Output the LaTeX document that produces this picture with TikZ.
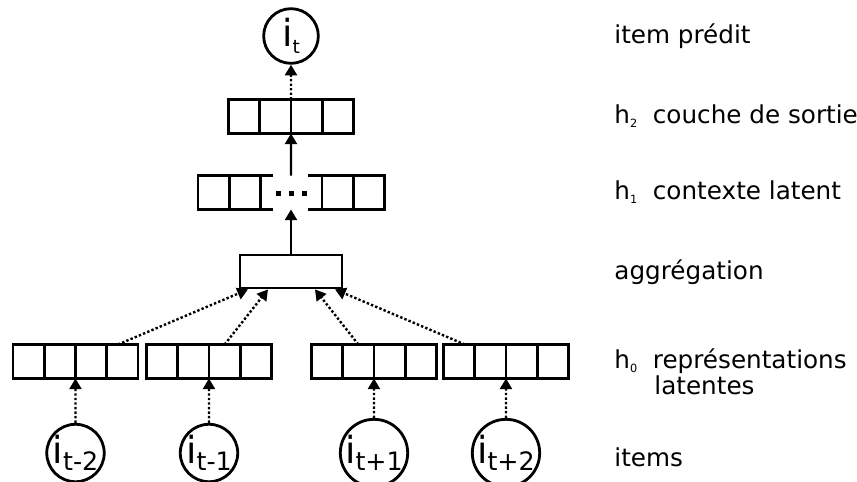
\documentclass[tikz,border=0pt]{standalone}
\usepackage{fontspec}
\setmainfont{DejaVu Sans}
\usetikzlibrary{arrows.meta}
\newcommand{\hlayer}[1]{h\raisebox{-3pt}{\fontsize{8.5}{8.5}\selectfont #1}}
\newcommand{\itemsym}[1]{{\fontsize{28}{28}\selectfont i}\raisebox{-5pt}{\fontsize{19}{19}\selectfont #1}}
\begin{document}
\begin{tikzpicture}[x=0.75pt, y=-0.75pt, line width=2.1pt,
  cell/.style={draw, minimum width=23.4pt, minimum height=25.5pt, inner sep=0pt, outer sep=0pt},
  item node/.style={circle, draw, minimum size=42.5pt, inner sep=0pt},
  dotarrow/.style={line width=1.8pt, dash pattern=on 1.8pt off 1.6pt, -{Triangle[width=9pt,length=8pt]}},
  fullarrow/.style={line width=1.8pt, -{Triangle[width=9pt,length=8pt]}},
  layer label/.style={anchor=base west, inner sep=0pt, font=\fontsize{18.5}{21}\selectfont}]
\useasboundingbox (0,0) rectangle (857,482);

% items en entree
\node [item node] (ia) at (75.5,453) {\itemsym{t-2}};
\node [item node] (ib) at (209,453) {\itemsym{t-1}};
\node [item node] (ic) at (374,453) {\itemsym{t+1}};
\node [item node] (id) at (506,453) {\itemsym{t+2}};

% h0
\foreach \v/\cx in {a/75.5, b/209, c/374, d/506}
  \foreach \c in {1,...,4}
    \node [cell] (h0\v\c) at ({\cx+(\c-2.5)*31.25}, 361.5) {};

% aggregation
\node [draw, minimum width=76.5pt, minimum height=24.75pt] (agg) at (291,271.5) {};

% h1
\node [cell] (h1a) at (213.5,192.5) {};
\node [cell] (h1b) at (244.5,192.5) {};
\node [minimum width=46.5pt, minimum height=25.5pt, inner sep=0pt, outer sep=0pt] (h1gap) at (291,192.5) {};
\node [cell] (h1c) at (337.5,192.5) {};
\node [cell] (h1d) at (368.5,192.5) {};
\draw (h1b.north east) -- +(13,0) (h1b.south east) -- +(13,0);
\draw (h1c.north west) -- +(-14,0) (h1c.south west) -- +(-14,0);
\foreach \dx in {278,291,304}
  \fill (\dx-2.5,190.5) rectangle +(5,5);

% h2
\foreach \c in {1,...,4}
  \node [cell] (h2\c) at ({291+(\c-2.5)*31.25}, 116.5) {};

% item predit
\node [item node, minimum size=41pt] (it) at (291,36)
  {{\fontsize{28}{28}\selectfont i}\raisebox{-5pt}{\fontsize{14}{14}\selectfont t}};

\path
  (ia) edge [dotarrow] (h0a2.south east)
  (ib) edge [dotarrow] (h0b2.south east)
  (ic) edge [dotarrow] (h0c2.south east)
  (id) edge [dotarrow] (h0d2.south east)
  ([xshift=-3.3pt]h0a4.north) edge [dotarrow] ([xshift=-32.25pt]agg.south)
  (h0b3.north) edge [dotarrow] ([xshift=-17.25pt]agg.south)
  (h0c2.north) edge [dotarrow] ([xshift=18pt]agg.south)
  ([xshift=4.4pt]h0d1.north) edge [dotarrow] ([xshift=33pt]agg.south)
  (agg.north) edge [fullarrow] (h1gap.south)
  (h1gap.north) edge [fullarrow] (h22.south east)
  (h22.north east) edge [dotarrow] (it.south)
  ;

% legende
\node [layer label] (lit) at (613,43) {item prédit};
\node [layer label] (lh2) at (613,123) {\hlayer{2}\ \ couche de sortie};
\node [layer label] (lh1) at (613,199) {\hlayer{1}\ \ contexte latent};
\node [layer label] (lagg) at (613,279) {aggrégation};
\node [layer label] (lh0) at (613,368) {\hlayer{0}\ \ représentations};
\node [layer label] (lh0b) at (653,394) {latentes};
\node [layer label] (litems) at (613,466) {items};
\end{tikzpicture}
\end{document}
